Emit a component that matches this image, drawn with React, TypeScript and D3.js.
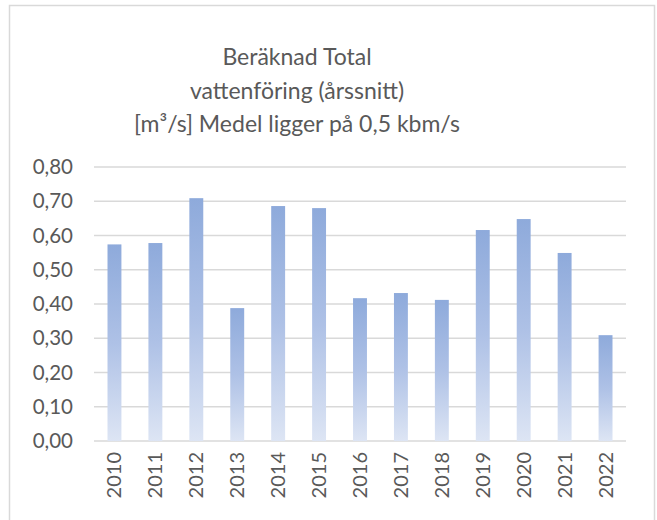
import React from "react";
import { scaleBand, scaleLinear, range } from "d3";

const years = ["2010", "2011", "2012", "2013", "2014", "2015", "2016", "2017", "2018", "2019", "2020", "2021", "2022"];
const flow = [0.574, 0.578, 0.709, 0.388, 0.686, 0.68, 0.417, 0.432, 0.412, 0.616, 0.648, 0.549, 0.309];
const titleLines = ["Beräknad Total", "vattenföring (årssnitt)", "[m³/s] Medel ligger på 0,5 kbm/s"];
const yTicks = range(0, 9).map((i) => i / 10);

const width = 657;
const height = 520;
const font = "Lato, 'Noto Sans', sans-serif";
const textColor = "#595959";

const App = () => {
  const xScale = scaleBand().domain(years).range([94, 626]).paddingInner(0.66).paddingOuter(0.33);
  const yScale = scaleLinear().domain([0, 0.8]).range([441, 167]);

  return (
    <svg width={width} height={height} style={{ position: "absolute", left: 0, top: 0 }}>
      <defs>
        <linearGradient id="barFill" x1="0" y1="0" x2="0" y2="1">
          <stop offset="0" stopColor="#8eaadb" />
          <stop offset="0.5" stopColor="#aec1e6" />
          <stop offset="1" stopColor="#dde5f4" />
        </linearGradient>
      </defs>
      <rect x={0} y={0} width={width} height={height} fill="#fff" />
      <rect x={9.5} y={5.5} width={645} height={530} fill="#fff" stroke="#d9d9d9" strokeWidth={1.5} />

      {titleLines.map((t, i) => (
        <text key={t} x={297} y={65 + i * 33.5} textAnchor="middle" fontFamily={font} fontSize={23} fill={textColor}>
          {t}
        </text>
      ))}

      {yTicks.map((t) => (
        <g key={t}>
          <line x1={94} x2={626} y1={yScale(t)} y2={yScale(t)} stroke="#d9d9d9" strokeWidth={1.5} />
          <text x={73} y={yScale(t)} dy="0.35em" textAnchor="end" fontFamily={font} fontSize={20.5} fill={textColor}>
            {t.toFixed(2).replace(".", ",")}
          </text>
        </g>
      ))}

      {years.map((y, i) => (
        <rect
          key={y}
          x={xScale(y)}
          y={yScale(flow[i])}
          width={xScale.bandwidth()}
          height={yScale(0) - yScale(flow[i])}
          fill="url(#barFill)"
        />
      ))}

      {years.map((y) => {
        const cx = (xScale(y) as number) + xScale.bandwidth() / 2;
        return (
          <text
            key={y}
            transform={`translate(${cx},452) rotate(-90)`}
            dy="0.35em"
            textAnchor="end"
            fontFamily={font}
            fontSize={20}
            fill={textColor}
          >
            {y}
          </text>
        );
      })}
    </svg>
  );
};

export default App;
